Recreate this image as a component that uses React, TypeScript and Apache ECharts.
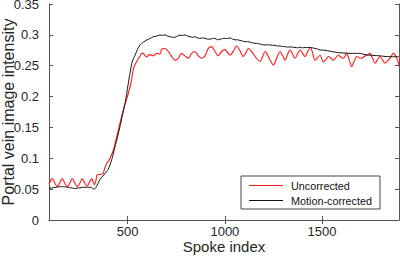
import React, { useEffect, useRef } from "react";
import * as echarts from "echarts";

const xTickValues = [500, 1000, 1500];
const yTickValues = [0, 0.05, 0.1, 0.15, 0.2, 0.25, 0.3, 0.35];

const uncorrectedSpoke = [
  95, 112, 125, 138, 150, 163, 176, 189, 202, 215, 228, 241, 254, 266, 278, 291, 303, 315, 322, 329,
  338, 343, 358, 373, 382, 392, 400, 413, 426, 452, 477, 503, 520, 529, 538, 546, 555, 563, 572, 580,
  590, 598, 606, 615, 632, 649, 666, 675, 692, 709, 726, 743, 760, 777, 794, 812, 829, 846, 863, 880,
  898, 915, 932, 949, 966, 983, 1000, 1027, 1044, 1061, 1078, 1095, 1108, 1121, 1140, 1160, 1181, 1194, 1207, 1228,
  1250, 1267, 1284, 1297, 1310, 1322, 1335, 1348, 1361, 1374, 1387, 1400, 1413, 1426, 1440, 1452, 1464, 1477, 1490, 1507,
  1520, 1533, 1546, 1558, 1571, 1584, 1597, 1610, 1627, 1640, 1653, 1666, 1679, 1692, 1704, 1717, 1730, 1747, 1760, 1773,
  1786, 1799, 1812, 1824, 1837, 1850, 1867, 1885, 1896,
];
const uncorrectedIntensity = [
  0.058, 0.067, 0.06, 0.054, 0.06, 0.067, 0.06, 0.054, 0.06, 0.067, 0.06, 0.054, 0.06, 0.067, 0.06, 0.055, 0.061, 0.067, 0.062, 0.057,
  0.066, 0.073, 0.074, 0.075, 0.084, 0.092, 0.095, 0.103, 0.113, 0.146, 0.178, 0.205, 0.227, 0.245, 0.252, 0.2565, 0.262, 0.265, 0.27, 0.27,
  0.266, 0.264, 0.267, 0.268, 0.266, 0.27, 0.269, 0.277, 0.278, 0.273, 0.265, 0.259, 0.262, 0.27, 0.266, 0.262, 0.27, 0.273, 0.266, 0.262,
  0.266, 0.278, 0.281, 0.273, 0.266, 0.273, 0.276, 0.267, 0.274, 0.282, 0.274, 0.265, 0.271, 0.278, 0.272, 0.263, 0.257, 0.265, 0.273, 0.262,
  0.251, 0.263, 0.273, 0.266, 0.259, 0.268, 0.2755, 0.269, 0.262, 0.269, 0.2755, 0.27, 0.2646, 0.273, 0.28, 0.27, 0.259, 0.263, 0.267, 0.256,
  0.26, 0.265, 0.262, 0.259, 0.263, 0.267, 0.264, 0.262, 0.27, 0.259, 0.2485, 0.258, 0.265, 0.263, 0.262, 0.265, 0.267, 0.27, 0.262, 0.254,
  0.26, 0.265, 0.259, 0.254, 0.258, 0.262, 0.27, 0.262, 0.25,
];

const motionSpoke = [
  95, 110, 130, 150, 170, 190, 210, 230, 250, 270, 290, 310, 320, 327, 335, 342, 350, 357, 368, 378,
  390, 400, 418, 435, 448, 460, 473, 486, 495, 503, 512, 521, 530, 538, 550, 563, 580, 598, 615, 632,
  649, 666, 680, 692, 705, 718, 730, 743, 756, 769, 782, 795, 808, 821, 834, 846, 859, 872, 885, 898,
  910, 923, 936, 949, 962, 975, 988, 1000, 1014, 1027, 1040, 1052, 1065, 1078, 1091, 1104, 1117, 1130, 1142, 1155,
  1168, 1181, 1194, 1207, 1220, 1232, 1245, 1258, 1271, 1284, 1297, 1310, 1322, 1335, 1348, 1361, 1374, 1387, 1400, 1413,
  1426, 1438, 1451, 1464, 1477, 1490, 1515, 1541, 1567, 1593, 1618, 1644, 1670, 1696, 1721, 1747, 1773, 1799, 1824, 1850,
  1875, 1896,
];
const motionIntensity = [
  0.051, 0.052, 0.053, 0.054, 0.054, 0.053, 0.052, 0.051, 0.052, 0.053, 0.053, 0.053, 0.051, 0.05, 0.052, 0.056, 0.061, 0.066, 0.07, 0.073,
  0.078, 0.082, 0.098, 0.119, 0.135, 0.151, 0.17, 0.189, 0.205, 0.2215, 0.238, 0.254, 0.262, 0.267, 0.276, 0.2836, 0.288, 0.2917, 0.294, 0.297,
  0.298, 0.2998, 0.299, 0.3, 0.298, 0.297, 0.296, 0.296, 0.298, 0.2995, 0.299, 0.3, 0.298, 0.297, 0.296, 0.297, 0.295, 0.2944, 0.295, 0.2944,
  0.293, 0.293, 0.294, 0.2944, 0.292, 0.293, 0.294, 0.2944, 0.294, 0.295, 0.293, 0.292, 0.292, 0.291, 0.29, 0.289, 0.289, 0.288, 0.287, 0.2863,
  0.286, 0.285, 0.284, 0.2836, 0.284, 0.2836, 0.283, 0.283, 0.282, 0.282, 0.281, 0.281, 0.28, 0.2805, 0.28, 0.2795, 0.279, 0.28, 0.279, 0.2795,
  0.2795, 0.2795, 0.279, 0.278, 0.277, 0.2755, 0.275, 0.2735, 0.272, 0.271, 0.2705, 0.27, 0.27, 0.27, 0.268, 0.267, 0.2665, 0.266, 0.265, 0.2646,
  0.2646, 0.2646,
];

const FONT = "Liberation Sans, Arial, Helvetica, sans-serif";
const AXIS_COLOR = "#555";
const RED = "#ff1a1a";
const BLACK = "#111";

export default function App() {
  const ref = useRef<HTMLDivElement>(null);
  useEffect(() => {
    if (!ref.current) return;
    const chart = echarts.init(ref.current, undefined, { renderer: "svg" });
    const redData = uncorrectedSpoke.map((s, i) => [s, uncorrectedIntensity[i]]);
    const blackData = motionSpoke.map((s, i) => [s, motionIntensity[i]]);
    const xMin = 95;
    const xMax = 1896;
    const commonTick = { show: true, inside: true, length: 4, lineStyle: { color: AXIS_COLOR, width: 1 } };
    chart.setOption({
      animation: false,
      backgroundColor: "#fff",
      textStyle: { fontFamily: FONT },
      grid: { left: 49, top: 4, width: 350, height: 216, containLabel: false, outerBoundsMode: "none" },
      xAxis: [
        {
          type: "value",
          min: xMin,
          max: xMax,
          position: "bottom",
          name: "Spoke index",
          nameLocation: "middle",
          nameGap: 19,
          nameMoveOverlap: false,
          nameTextStyle: { fontSize: 15, color: "#262626", fontFamily: FONT },
          axisLine: { show: true, lineStyle: { color: AXIS_COLOR, width: 1 } },
          axisTick: { ...commonTick, customValues: xTickValues },
          axisLabel: {
            customValues: xTickValues,
            fontSize: 13,
            color: "#262626",
            margin: 5,
            fontFamily: FONT,
            formatter: (v: number) => String(v),
          },
          splitLine: { show: false },
        },
        {
          type: "value",
          min: xMin,
          max: xMax,
          position: "top",
          axisLine: { show: true, lineStyle: { color: AXIS_COLOR, width: 1 } },
          axisTick: { ...commonTick, customValues: xTickValues },
          axisLabel: { show: false },
          splitLine: { show: false },
        },
      ],
      yAxis: [
        {
          type: "value",
          min: 0,
          max: 0.35,
          position: "left",
          name: "Portal vein image intensity",
          nameLocation: "middle",
          nameGap: 33,
          nameMoveOverlap: false,
          nameTextStyle: { fontSize: 16, color: "#262626", fontFamily: FONT },
          axisLine: { show: true, lineStyle: { color: AXIS_COLOR, width: 1 } },
          axisTick: { ...commonTick, customValues: yTickValues },
          axisLabel: {
            customValues: yTickValues,
            fontSize: 13,
            color: "#262626",
            margin: 10,
            fontFamily: FONT,
            formatter: (v: number) => String(parseFloat(v.toFixed(2))),
          },
          splitLine: { show: false },
        },
        {
          type: "value",
          min: 0,
          max: 0.35,
          position: "right",
          axisLine: { show: true, lineStyle: { color: AXIS_COLOR, width: 1 } },
          axisTick: { ...commonTick, customValues: yTickValues },
          axisLabel: { show: false },
          splitLine: { show: false },
        },
      ],
      legend: {
        show: true,
        orient: "vertical",
        left: 241,
        top: 176,
        padding: [3, 8, 2, 8],
        itemWidth: 34,
        itemHeight: 1.2,
        itemGap: 2,
        icon: "rect",
        backgroundColor: "#fff",
        borderColor: "#444",
        borderWidth: 1,
        textStyle: { fontSize: 10.8, color: "#111", fontFamily: FONT, lineHeight: 13, padding: [0, 0, 0, 3] },
        data: [
          { name: "Uncorrected", icon: "rect", itemStyle: { color: RED } },
          { name: "Motion-corrected", icon: "rect", itemStyle: { color: BLACK } },
        ],
      },
      series: [
        {
          name: "Uncorrected",
          type: "line",
          data: redData,
          symbol: "none",
          smooth: 0.3,
          lineStyle: { color: RED, width: 1.1 },
          itemStyle: { color: RED },
          z: 2,
        },
        {
          name: "Motion-corrected",
          type: "line",
          data: blackData,
          symbol: "none",
          smooth: 0.2,
          lineStyle: { color: BLACK, width: 1 },
          itemStyle: { color: BLACK },
          z: 3,
        },
      ],
    });
    return () => chart.dispose();
  }, []);
  return <div ref={ref} style={{ width: 400, height: 257, position: "fixed", left: 0, top: 0 }} />;
}
